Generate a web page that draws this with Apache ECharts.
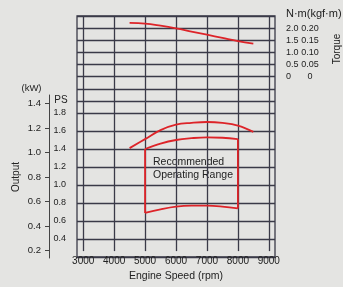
<!DOCTYPE html>
<html><head><meta charset="utf-8">
<script src="https://cdn.jsdelivr.net/npm/echarts@6/dist/echarts.min.js"></script>
<style>html,body{margin:0;padding:0;background:#e4e4e2;}#c{width:343px;height:287px;}</style>
</head><body><div id="c"></div>
<script>
// ---- data ----
const rpmTicks = [3000, 4000, 5000, 6000, 7000, 8000, 9000];
const nmTicks = [0, 0.5, 1.0, 1.5, 2.0];
const kgfTicks = [0, 0.05, 0.10, 0.15, 0.20];
const psTicks = [0.4, 0.6, 0.8, 1.0, 1.2, 1.4, 1.6, 1.8];
const kwTicks = [0.2, 0.4, 0.6, 0.8, 1.0, 1.2, 1.4];

const torqueRpm = [4500, 5000, 5500, 6000, 6500, 7000, 7500, 8000, 8500];
const torqueNm  = [2.22, 2.19, 2.10, 1.99, 1.86, 1.73, 1.60, 1.47, 1.36];

const maxRpm = [4500, 5000, 5500, 6000, 6500, 7000, 7500, 8000, 8500];
const maxPS  = [1.41, 1.51, 1.61, 1.67, 1.69, 1.70, 1.69, 1.66, 1.59];

const recRpm      = [5000, 5500, 6000, 6500, 7000, 7500, 8000];
const recTopPS    = [1.40, 1.46, 1.50, 1.52, 1.53, 1.525, 1.51];
const recBottomPS = [0.69, 0.73, 0.76, 0.77, 0.77, 0.76, 0.74];

// ---- layout helpers ----
const PS_TO_KW = 0.7355;
const RED = '#dd2429';
const GRIDC = '#3a3a48';
const TXT = '#222';
const FONT = '"Liberation Sans", Arial, sans-serif';

const zip = (a, b) => a.map((v, i) => [v, b[i]]);
const inList = (list, v) => list.some(t => Math.abs(t - v) < 1e-6);

const chart = echarts.init(document.getElementById('c'), null, {renderer: 'canvas'});

const frameL = 77, frameW = 198;
const xMin = 2800, xMax = 9200;
const pxPerRpm = frameW / (xMax - xMin);

// kW axis: same pixel scale as PS grid (top 113 -> 1.8 PS, bottom 257 -> 0.2 PS)
const psPerPx = 1.6 / 144;
const kwTopPx = 95, kwBotPx = 258;
const kwMax = (1.8 + (113 - kwTopPx) * psPerPx) * PS_TO_KW;
const kwMin = (0.2 - (kwBotPx - 257) * psPerPx) * PS_TO_KW;

const hiddenX = (g) => ({type: 'value', gridIndex: g, min: xMin, max: xMax, show: false});

const option = {
  backgroundColor: '#e4e4e2',
  animation: false,
  textStyle: {fontFamily: FONT},
  grid: [
    {left: frameL + (rpmTicks[0] - xMin) * pxPerRpm, width: (rpmTicks[rpmTicks.length-1] - rpmTicks[0]) * pxPerRpm, top: 16, height: 241},
    {left: frameL, width: frameW, top: 16, height: 85},
    {left: frameL, width: frameW, top: 113, height: 144},
    {left: 49, width: 1, top: kwTopPx, height: kwBotPx - kwTopPx},
    {left: frameL, width: frameW, top: 16, height: 241, show: true, borderColor: GRIDC, borderWidth: 1.3, backgroundColor: 'transparent'}
  ],
  xAxis: [
    {type: 'value', gridIndex: 0, min: rpmTicks[0], max: rpmTicks[rpmTicks.length-1], interval: 1000,
     axisLine: {show: false}, axisTick: {show: false},
     splitLine: {show: true, lineStyle: {color: GRIDC, width: 1.3}},
     axisLabel: {color: TXT, fontSize: 10, margin: 5, fontFamily: FONT, formatter: v => String(v)},
     name: 'Engine Speed (rpm)', nameLocation: 'middle', nameGap: 19,
     nameTextStyle: {color: TXT, fontSize: 10.5, fontFamily: FONT}},
    hiddenX(1), hiddenX(2), hiddenX(3), hiddenX(4)
  ],
  yAxis: [
    {type: 'value', gridIndex: 0, min: 0, max: 1, show: false},
    {type: 'value', gridIndex: 1, position: 'right', min: -1, max: 2.5, interval: 0.5,
     axisLine: {show: false}, axisTick: {show: false},
     splitLine: {show: true, lineStyle: {color: GRIDC, width: 1.3}},
     axisLabel: {color: TXT, fontSize: 9, margin: 11, align: 'left', fontFamily: FONT,
       formatter: v => inList(nmTicks, v) ? (Math.abs(v) < 1e-6 ? '0' : v.toFixed(1)) : ''}},
    {type: 'value', gridIndex: 1, position: 'right', min: -0.1, max: 0.25, interval: 0.05,
     axisLine: {show: false}, axisTick: {show: false}, splitLine: {show: false},
     axisLabel: {color: TXT, fontSize: 9, margin: 35, align: 'center', fontFamily: FONT,
       formatter: v => inList(kgfTicks, v) ? (Math.abs(v) < 1e-6 ? '0' : v.toFixed(2)) : ''}},
    {type: 'value', gridIndex: 2, position: 'left', min: 0.2, max: 1.8, interval: 0.2,
     axisLine: {show: false}, axisTick: {show: false},
     splitLine: {show: true, lineStyle: {color: GRIDC, width: 1.3}},
     axisLabel: {color: TXT, fontSize: 9, margin: 23.5, align: 'left', fontFamily: FONT,
       formatter: v => inList(psTicks, v) ? v.toFixed(1) : ''}},
    {type: 'value', gridIndex: 3, position: 'left', min: kwMin, max: kwMax,
     axisLine: {show: true, lineStyle: {color: '#444', width: 1}},
     axisTick: {show: true, length: 4, customValues: kwTicks, lineStyle: {color: '#444'}},
     splitLine: {show: false},
     axisLabel: {color: TXT, fontSize: 9.5, margin: 8, customValues: kwTicks, fontFamily: FONT,
       formatter: v => v.toFixed(1)}},
    {type: 'value', gridIndex: 4, min: 0, max: 1, show: false}
  ],
  graphic: [
    {type: 'text', left: 286, top: 8, style: {text: 'N·m(kgf·m)', fill: TXT, font: '11px ' + FONT}},
    {type: 'text', x: 337, y: 49, rotation: Math.PI / 2,
     style: {text: 'Torque', fill: TXT, font: '10px ' + FONT, align: 'center', verticalAlign: 'middle'}},
    {type: 'text', x: 31.5, y: 88.5, style: {text: '(kW)', fill: TXT, font: '9.5px ' + FONT, align: 'center', verticalAlign: 'middle'}},
    {type: 'text', x: 61, y: 100.5, style: {text: 'PS', fill: TXT, font: '10px ' + FONT, align: 'center', verticalAlign: 'middle'}},
    {type: 'text', x: 16.5, y: 177, rotation: Math.PI / 2,
     style: {text: 'Output', fill: TXT, font: '10px ' + FONT, align: 'center', verticalAlign: 'middle'}},
    {type: 'text', left: 153, top: 155.5,
     style: {text: 'Recommended\nOperating Range', fill: TXT, font: '10.5px ' + FONT, lineHeight: 13.3}}
  ],
  series: [
    {type: 'line', xAxisIndex: 1, yAxisIndex: 1, data: zip(torqueRpm, torqueNm), smooth: 0.4,
     showSymbol: false, lineStyle: {color: RED, width: 1.8}},
    {type: 'line', xAxisIndex: 2, yAxisIndex: 3, data: zip(maxRpm, maxPS), smooth: 0.4,
     showSymbol: false, lineStyle: {color: RED, width: 1.8}},
    {type: 'line', xAxisIndex: 2, yAxisIndex: 3, data: zip(recRpm, recTopPS), smooth: 0.4,
     showSymbol: false, lineStyle: {color: RED, width: 1.8}},
    {type: 'line', xAxisIndex: 2, yAxisIndex: 3, data: zip(recRpm, recBottomPS), smooth: 0.4,
     showSymbol: false, lineStyle: {color: RED, width: 1.8}},
    {type: 'line', xAxisIndex: 2, yAxisIndex: 3,
     data: [[recRpm[0], recBottomPS[0]], [recRpm[0], recTopPS[0]]],
     showSymbol: false, lineStyle: {color: RED, width: 1.8}},
    {type: 'line', xAxisIndex: 2, yAxisIndex: 3,
     data: [[recRpm[recRpm.length-1], recTopPS[recTopPS.length-1]], [recRpm[recRpm.length-1], recBottomPS[recBottomPS.length-1]]],
     showSymbol: false, lineStyle: {color: RED, width: 1.8}}
  ]
};
chart.setOption(option);
</script>
</body></html>
